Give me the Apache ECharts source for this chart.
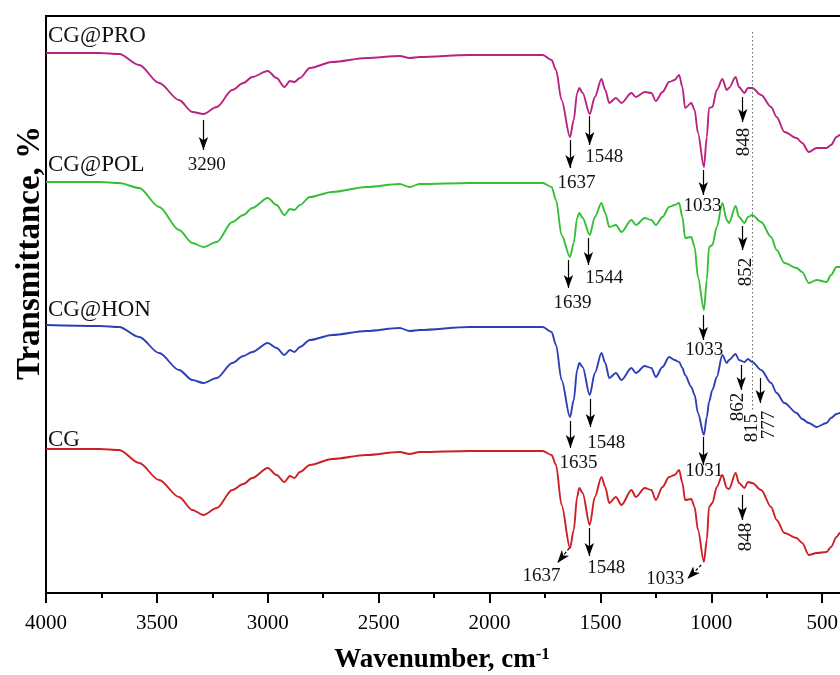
<!DOCTYPE html>
<html>
<head>
<meta charset="utf-8">
<title>FTIR spectra</title>
<script src="https://cdn.jsdelivr.net/npm/echarts@6/dist/echarts.min.js"></script>
<style>
html, body { margin: 0; padding: 0; background: #fff; }
#chart { width: 840px; height: 675px; }
</style>
</head>
<body>
<div id="chart"></div>
<script>
// wavenumber grid (cm-1), shared by the four spectra
var wavenumbers = [4000, 3760, 3670, 3580, 3490, 3400, 3340, 3290, 3230, 3160,
    3110, 3070, 3000, 2960, 2925, 2900, 2880, 2855, 2810, 2710,
    2555, 2405, 2360, 2315, 2090, 1760, 1720, 1700, 1675, 1637,
    1620, 1605, 1595, 1580, 1548, 1525, 1495, 1478, 1460, 1430,
    1405, 1360, 1340, 1300, 1270, 1250, 1220, 1190, 1165, 1145,
    1130, 1118, 1090, 1075, 1060, 1033, 1020, 1010, 995, 975,
    950, 930, 920, 890, 875, 850, 835, 815, 775, 730,
    705, 670, 615, 590, 560, 525, 480, 460, 435, 420, 400];

// transmittance, stacked (arbitrary units)
var cgPro = [540, 540, 539, 528, 510, 493, 481, 479, 486, 503,
    510, 516, 522, 515, 506, 512, 511, 515, 525, 531,
    535, 537, 535, 536, 538, 538, 533, 523, 493, 456,
    473, 500, 505, 500, 479, 496, 514, 503, 490, 495,
    490, 500, 496, 501, 500, 492, 501, 511, 513, 518,
    506, 485, 490, 483, 460, 426, 456, 485, 486, 503,
    514, 503, 505, 516, 506, 500, 505, 505, 498, 486,
    476, 461, 455, 450, 441, 445, 445, 448, 456, 458, 460];
var cgPol = [411, 411, 410, 405, 386, 363, 350, 346, 351, 371,
    378, 385, 395, 388, 378, 384, 383, 388, 396, 401,
    406, 409, 406, 409, 410, 410, 406, 393, 358, 336,
    350, 375, 380, 375, 358, 376, 390, 380, 366, 368,
    361, 373, 368, 375, 373, 368, 376, 386, 388, 390,
    376, 355, 356, 346, 316, 283, 313, 346, 348, 366,
    390, 373, 370, 387, 376, 370, 376, 378, 371, 356,
    343, 330, 325, 321, 310, 313, 311, 318, 326, 326, 327];
var cgHon = [268, 267, 266, 256, 240, 223, 213, 210, 215, 230,
    237, 241, 250, 245, 238, 243, 241, 246, 253, 258,
    262, 265, 262, 263, 266, 266, 261, 248, 213, 176,
    193, 223, 230, 226, 198, 220, 240, 230, 215, 220,
    213, 225, 220, 227, 225, 216, 226, 236, 233, 231,
    225, 218, 206, 198, 180, 158, 176, 191, 203, 216,
    238, 230, 233, 239, 233, 231, 234, 231, 223, 210,
    200, 190, 180, 174, 170, 166, 170, 175, 179, 180, 182];
var cg = [144, 144, 143, 130, 113, 96, 83, 78, 85, 103,
    109, 115, 125, 118, 111, 117, 115, 121, 128, 134,
    138, 141, 139, 141, 142, 142, 138, 128, 88, 45,
    63, 96, 105, 100, 68, 96, 116, 106, 90, 96,
    88, 103, 96, 105, 103, 93, 106, 116, 118, 123,
    110, 93, 94, 86, 63, 31, 53, 86, 90, 106,
    118, 105, 104, 120, 110, 105, 111, 110, 103, 86,
    73, 60, 55, 50, 38, 40, 41, 46, 56, 60, 62];

var seriesNames = ['CG@PRO', 'CG@POL', 'CG@HON', 'CG'];
var seriesColors = ['#b8237f', '#36bf36', '#2c3fb5', '#cc1f26'];
var nameLevels = [557, 428, 283, 153];

// peak marks: [arrow start w, start value, arrow end w, end value, text, label w, label value, rotate, dashed]
var proPeaks = [
    [3290, 473, 3290, 443, '3290', 3275, 428, 0],
    [1637, 453, 1637, 425, '1637', 1608, 410, 0],
    [1548, 477, 1548, 448, '1548', 1482, 436, 0],
    [1036, 423, 1036, 398, '1033', 1040, 387, 0],
    [858, 496, 858, 471, '848', 851, 451, 90]
];
var polPeaks = [
    [1644, 333, 1644, 305, '1639', 1626, 290, 0],
    [1554, 355, 1554, 328, '1544', 1482, 315, 0],
    [1036, 278, 1036, 253, '1033', 1032, 243, 0],
    [858, 367, 858, 343, '852', 842, 321, 90]
];
var honPeaks = [
    [1635, 172, 1635, 145, '1635', 1599, 130, 0],
    [1545, 194, 1545, 166, '1548', 1473, 150, 0],
    [1036, 156, 1036, 128, '1031', 1032, 122, 0],
    [865, 228, 865, 203, '862', 878, 186, 90],
    [null, 0, null, 0, '815', 815, 165, 90],
    [779, 215, 779, 190, '777', 739, 168, 90]
];
var cgPeaks = [
    [1640, 45, 1694, 30, '1637', 1766, 17, 0, true],
    [1550, 65, 1550, 37, '1548', 1473, 25, 0],
    [1045, 28, 1108, 14, '1033', 1207, 14, 0, true],
    [860, 98, 860, 73, '848', 842, 56, 90]
];
var allPeaks = [proPeaks, polPeaks, honPeaks, cgPeaks];

// dotted guide line at 815 cm-1
var guideLine = [815, 561, 181];

var serif = 'Liberation Serif, Times New Roman, serif';

function pairs(vals) {
    return wavenumbers.map(function(w, i) {
        return [w, vals[i]];
    });
}

function buildSeries(idx, vals) {
    var peaks = allPeaks[idx];
    var lines = [];
    var points = [{
        coord: [4000, nameLevels[idx]],
        label: {
            position: 'right',
            distance: 2,
            fontSize: 23,
            formatter: seriesNames[idx]
        }
    }];
    peaks.forEach(function(p) {
        if (p[0] !== null) {
            lines.push([
                {coord: [p[0], p[1]], symbol: 'none'},
                {coord: [p[2], p[3]], symbol: 'arrow', symbolSize: [7, 13],
                    lineStyle: {type: p[8] ? [3, 2] : 'solid'}}
            ]);
        }
        points.push({
            coord: [p[5], p[6]],
            label: {
                position: 'inside',
                rotate: p[7],
                fontSize: 19,
                formatter: p[4]
            }
        });
    });
    if (idx === 0) {
        lines.push([
            {coord: [guideLine[0], guideLine[1]], symbol: 'none',
                lineStyle: {type: [1.5, 2.5], color: '#666', width: 1}},
            {coord: [guideLine[0], guideLine[2]], symbol: 'none'}
        ]);
    }
    return {
        name: seriesNames[idx],
        type: 'line',
        data: pairs(vals),
        showSymbol: false,
        smooth: 0.3,
        smoothMonotone: 'x',
        lineStyle: {color: seriesColors[idx], width: 1.9},
        itemStyle: {color: seriesColors[idx]},
        z: 2,
        markLine: {
            silent: true,
            animation: false,
            symbolSize: 10,
            label: {show: false},
            lineStyle: {color: '#000', width: 1.2, type: 'solid'},
            data: lines
        },
        markPoint: {
            silent: true,
            animation: false,
            symbol: 'circle',
            symbolSize: 0,
            label: {
                show: true,
                color: '#111',
                fontFamily: serif
            },
            data: points
        }
    };
}

var myChart = echarts.init(document.getElementById('chart'));
var option = {
    backgroundColor: '#fff',
    animation: false,
    grid: {
        left: 46,
        top: 16,
        right: -93,
        bottom: 82,
        outerBoundsMode: 'none',
        show: true,
        borderColor: '#000',
        borderWidth: 2
    },
    xAxis: {
        type: 'value',
        min: 0,
        max: 4000,
        interval: 500,
        inverse: true,
        axisLine: {lineStyle: {color: '#000', width: 2}},
        axisTick: {length: 10, lineStyle: {color: '#000', width: 2}},
        minorTick: {show: true, splitNumber: 2, length: 5, lineStyle: {color: '#000', width: 2}},
        axisLabel: {
            color: '#000',
            fontSize: 21,
            fontFamily: serif,
            margin: 20,
            formatter: function(v) { return String(v); }
        },
        splitLine: {show: false}
    },
    yAxis: {
        type: 'value',
        min: 0,
        max: 577,
        axisLine: {show: true, lineStyle: {color: '#000', width: 2}},
        axisTick: {show: false},
        axisLabel: {show: false},
        splitLine: {show: false}
    },
    graphic: [{
        type: 'text',
        x: 30,
        y: 253,
        rotation: Math.PI / 2,
        style: {
            text: 'Transmittance, %',
            font: 'bold 33px ' + serif,
            fill: '#000',
            align: 'center',
            verticalAlign: 'middle'
        }
    }, {
        type: 'text',
        x: 442,
        y: 660,
        style: {
            text: '{t|Wavenumber, cm}{s|-1}',
            align: 'center',
            verticalAlign: 'middle',
            rich: {
                t: {font: 'bold 27px ' + serif, fill: '#000'},
                s: {font: 'bold 17px ' + serif, fill: '#000', verticalAlign: 'top'}
            }
        }
    }],
    series: [
        buildSeries(0, cgPro),
        buildSeries(1, cgPol),
        buildSeries(2, cgHon),
        buildSeries(3, cg)
    ]
};
myChart.setOption(option);
</script>
</body>
</html>
